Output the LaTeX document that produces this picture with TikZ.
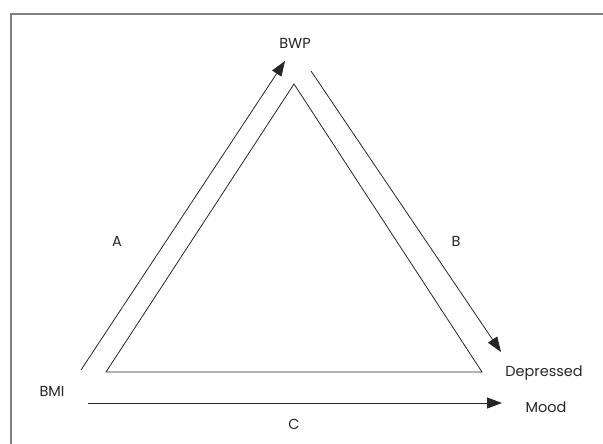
\documentclass[tikz,border=0pt]{standalone}
\usepackage{fontspec}
\setmainfont{Poppins}
\usetikzlibrary{arrows.meta,positioning}

\begin{document}
\begin{tikzpicture}[x=1pt,y=-1pt,
  lbl/.style={font=\fontsize{14.5}{16}\selectfont, text=black!85, inner sep=0pt},
  edge/.style={line width=0.8pt, black!85},
  arr/.style={edge, -{Triangle[length=15pt,width=11pt]}}]
\useasboundingbox (0,0) rectangle (603,444);
\draw[gray, line width=1.5pt] (11,444) -- (11,14) -- (603,14);
% inner triangle
\coordinate (top) at (294,84);
\coordinate (left) at (106,372);
\coordinate (right) at (482,372);
\draw[edge] (top) -- (left) -- (right) -- cycle;
% arrow end points
\coordinate (a0) at (81,370);
\coordinate (a1) at (285,61);
\coordinate (b0) at (311,71);
\coordinate (b1) at (501,352);
\coordinate (c0) at (88,403);
\coordinate (c1) at (502,403);
\draw[arr] (a0) -- (a1);
\draw[arr] (b0) -- (b1);
\draw[arr] (c0) -- (c1);
% labels
\node[lbl] (bwp) at (295,43) {BWP};
\node[lbl] (bmi) at (52,391) {BMI};
\node[lbl] (dep) at (544,373) {Depressed};
\node[lbl] (mood) at (546,407) {Mood};
\node[lbl] (la) at (117,241) {A};
\node[lbl] (lb) at (456,241) {B};
\node[lbl] (lc) at (294,424) {C};
\end{tikzpicture}
\end{document}
